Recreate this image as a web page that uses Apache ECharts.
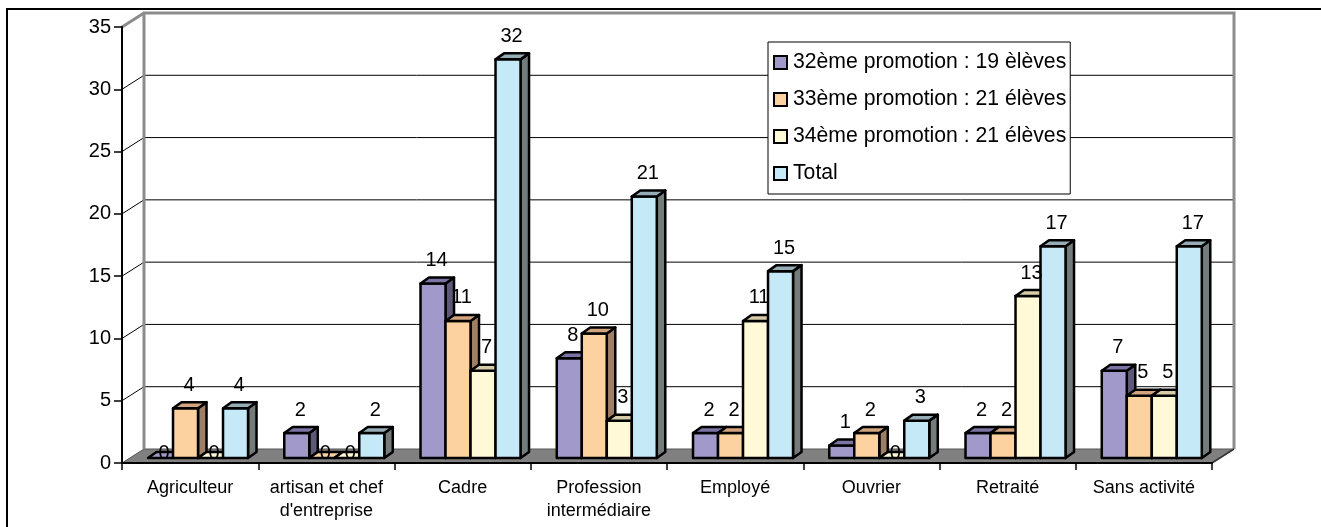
<!DOCTYPE html>
<html><head><meta charset="utf-8">
<script src="https://cdn.jsdelivr.net/npm/echarts@6/dist/echarts.min.js"></script>
<style>html,body{margin:0;padding:0;background:#fff}#c{width:1321px;height:527px}</style>
</head><body><div id="c"></div>
<script>
// ---- data ----
const categories = ['Agriculteur', "artisan et chef\nd'entreprise", 'Cadre', 'Profession\nintermédiaire', 'Employé', 'Ouvrier', 'Retraité', 'Sans activité'];
const seriesNames = ['32ème promotion : 19 èlèves', '33ème promotion : 21 élèves', '34ème promotion : 21 élèves', 'Total'];
const promo32 = [0, 2, 14, 8, 2, 1, 2, 7];
const promo33 = [4, 0, 11, 10, 2, 2, 2, 5];
const promo34 = [0, 0, 7, 3, 11, 0, 13, 5];
const total   = [4, 2, 32, 21, 15, 3, 17, 17];
const yTicks = [0, 5, 10, 15, 20, 25, 30, 35];

// ---- style ----
const FONT = 'Liberation Sans, Arial, sans-serif';
const WALL = [22, -14];     // depth of the back wall
const PLANE = [7.9, -5];    // bar plane offset
const DEPTH = [8.5, -6];    // bar depth
const palette = [
  {front: '#A099CA', top: '#7C74A4', side: '#5F5879'},
  {front: '#FCD2A0', top: '#D3A57E', side: '#9E7F66'},
  {front: '#FFF9D8', top: '#D6CCA8', side: '#A19C82'},
  {front: '#C6E9F8', top: '#96ADB6', side: '#737B7B'}
];
const seriesData = [promo32, promo33, promo34, total];

const chart = echarts.init(document.getElementById('c'), null, {renderer: 'canvas'});

function backgroundRender(params, api) {
  const cs = params.coordSys;
  const x0 = cs.x, x1 = cs.x + cs.width, yb = cs.y + cs.height, yt = cs.y;
  const dx = WALL[0], dy = WALL[1];
  const ch = [];
  ch.push({type: 'polygon', shape: {points: [[x0, yb], [x1, yb], [x1 + dx, yb + dy], [x0 + dx, yb + dy]]},
    style: {fill: '#808080', stroke: '#555', lineWidth: 1}});
  yTicks.forEach(v => {
    if (v === 0 || v === yTicks[yTicks.length - 1]) return;
    const y = api.coord([0, v])[1];
    ch.push({type: 'polyline', shape: {points: [[x0, y], [x0 + dx, y + dy], [x1 + dx, y + dy]]},
      style: {stroke: '#000', lineWidth: 1, fill: null}});
  });
  ch.push({type: 'polyline', shape: {points: [[x0, yt], [x0 + dx, yt + dy], [x1 + dx, yt + dy], [x1 + dx, yb + dy]]},
    style: {stroke: '#8C8C8C', lineWidth: 3, fill: null}});
  ch.push({type: 'line', shape: {x1: x0 + dx, y1: yt + dy, x2: x0 + dx, y2: yb + dy},
    style: {stroke: '#8C8C8C', lineWidth: 3}});
  ch.push({type: 'line', shape: {x1: x1, y1: yb, x2: x1 + dx, y2: yb + dy},
    style: {stroke: '#333', lineWidth: 1.5}});
  return {type: 'group', children: ch};
}

function barRender(si) {
  return function (params, api) {
    const ci = api.value(0), v = api.value(1);
    const base = api.coord([ci, 0]);
    const topP = api.coord([ci, v]);
    const catW = api.size([1, 0])[0];
    const bw = catW * 0.1835;
    const left = base[0] - 2 * bw + si * bw + PLANE[0];
    const yb = base[1] + PLANE[1];
    const yt = topP[1] + PLANE[1];
    const c = palette[si];
    const bx = DEPTH[0], by = DEPTH[1];
    const stroke = {stroke: '#000', lineWidth: 2.5, lineJoin: 'round'};
    const ch = [];
    if (v > 0) {
      ch.push({type: 'polygon', shape: {points: [[left + bw, yt], [left + bw + bx, yt + by], [left + bw + bx, yb + by], [left + bw, yb]]},
        style: Object.assign({fill: c.side}, stroke)});
      ch.push({type: 'rect', shape: {x: left, y: yt, width: bw, height: yb - yt},
        style: Object.assign({fill: c.front}, stroke)});
    }
    ch.push({type: 'polygon', shape: {points: [[left, yt], [left + bw, yt], [left + bw + bx, yt + by], [left + bx, yt + by]]},
      style: Object.assign({fill: v > 0 ? c.top : c.front}, stroke)});
    ch.push({type: 'text', z2: 100, style: {
      text: String(v), x: left + bw / 2 + 3.5, y: v > 0 ? yt - 23 : yb - 5,
      align: 'center', verticalAlign: 'middle', fill: '#000', font: '20px ' + FONT}});
    return {type: 'group', children: ch};
  };
}

const series = [{
  type: 'custom', name: '__bg', z: 1, silent: true,
  renderItem: backgroundRender, data: [[0, 0]], encode: {x: 0, y: 1}
}];
seriesData.forEach((arr, si) => {
  series.push({
    type: 'custom', name: seriesNames[si], z: 2,
    itemStyle: {color: palette[si].front, borderColor: '#000', borderWidth: 2},
    renderItem: barRender(si),
    data: arr.map((v, i) => [i, v]),
    encode: {x: 0, y: 1}
  });
});

chart.setOption({
  animation: false,
  backgroundColor: '#fff',
  textStyle: {fontFamily: FONT, color: '#000'},
  grid: {left: 122, right: 109, top: 27, bottom: 64, containLabel: false},
  xAxis: {
    type: 'category', data: categories, z: 5,
    axisLine: {show: true, lineStyle: {color: '#000', width: 2}},
    axisTick: {show: true, length: 7, alignWithLabel: false, lineStyle: {color: '#000', width: 1.5}},
    axisLabel: {interval: 0, fontSize: 18, lineHeight: 23, color: '#000', margin: 14, fontFamily: FONT},
    splitLine: {show: false}
  },
  yAxis: {
    type: 'value', min: 0, max: 35, interval: 5, z: 5,
    axisLine: {show: true, lineStyle: {color: '#000', width: 2}},
    axisTick: {show: true, length: 8, lineStyle: {color: '#000', width: 1.5}},
    axisLabel: {fontSize: 20, color: '#000', margin: 11, fontFamily: FONT},
    splitLine: {show: false}
  },
  legend: {
    data: seriesNames, orient: 'vertical', left: 768, top: 42,
    backgroundColor: '#fff', borderColor: '#000', borderWidth: 1,
    padding: [10, 4, 10, 5], itemWidth: 13, itemHeight: 13, itemGap: 16,
    icon: 'rect',
    itemStyle: {borderColor: '#000', borderWidth: 2},
    textStyle: {fontSize: 21.2, lineHeight: 21, color: '#000', fontFamily: FONT, padding: [0, 0, 0, 1]},
    selectedMode: false, z: 10
  },
  graphic: [{type: 'rect', shape: {x: 7, y: 9, width: 1400, height: 600}, style: {fill: 'none', stroke: '#000', lineWidth: 2}, silent: true, z: 100}],
  series: series
});
</script></body></html>
